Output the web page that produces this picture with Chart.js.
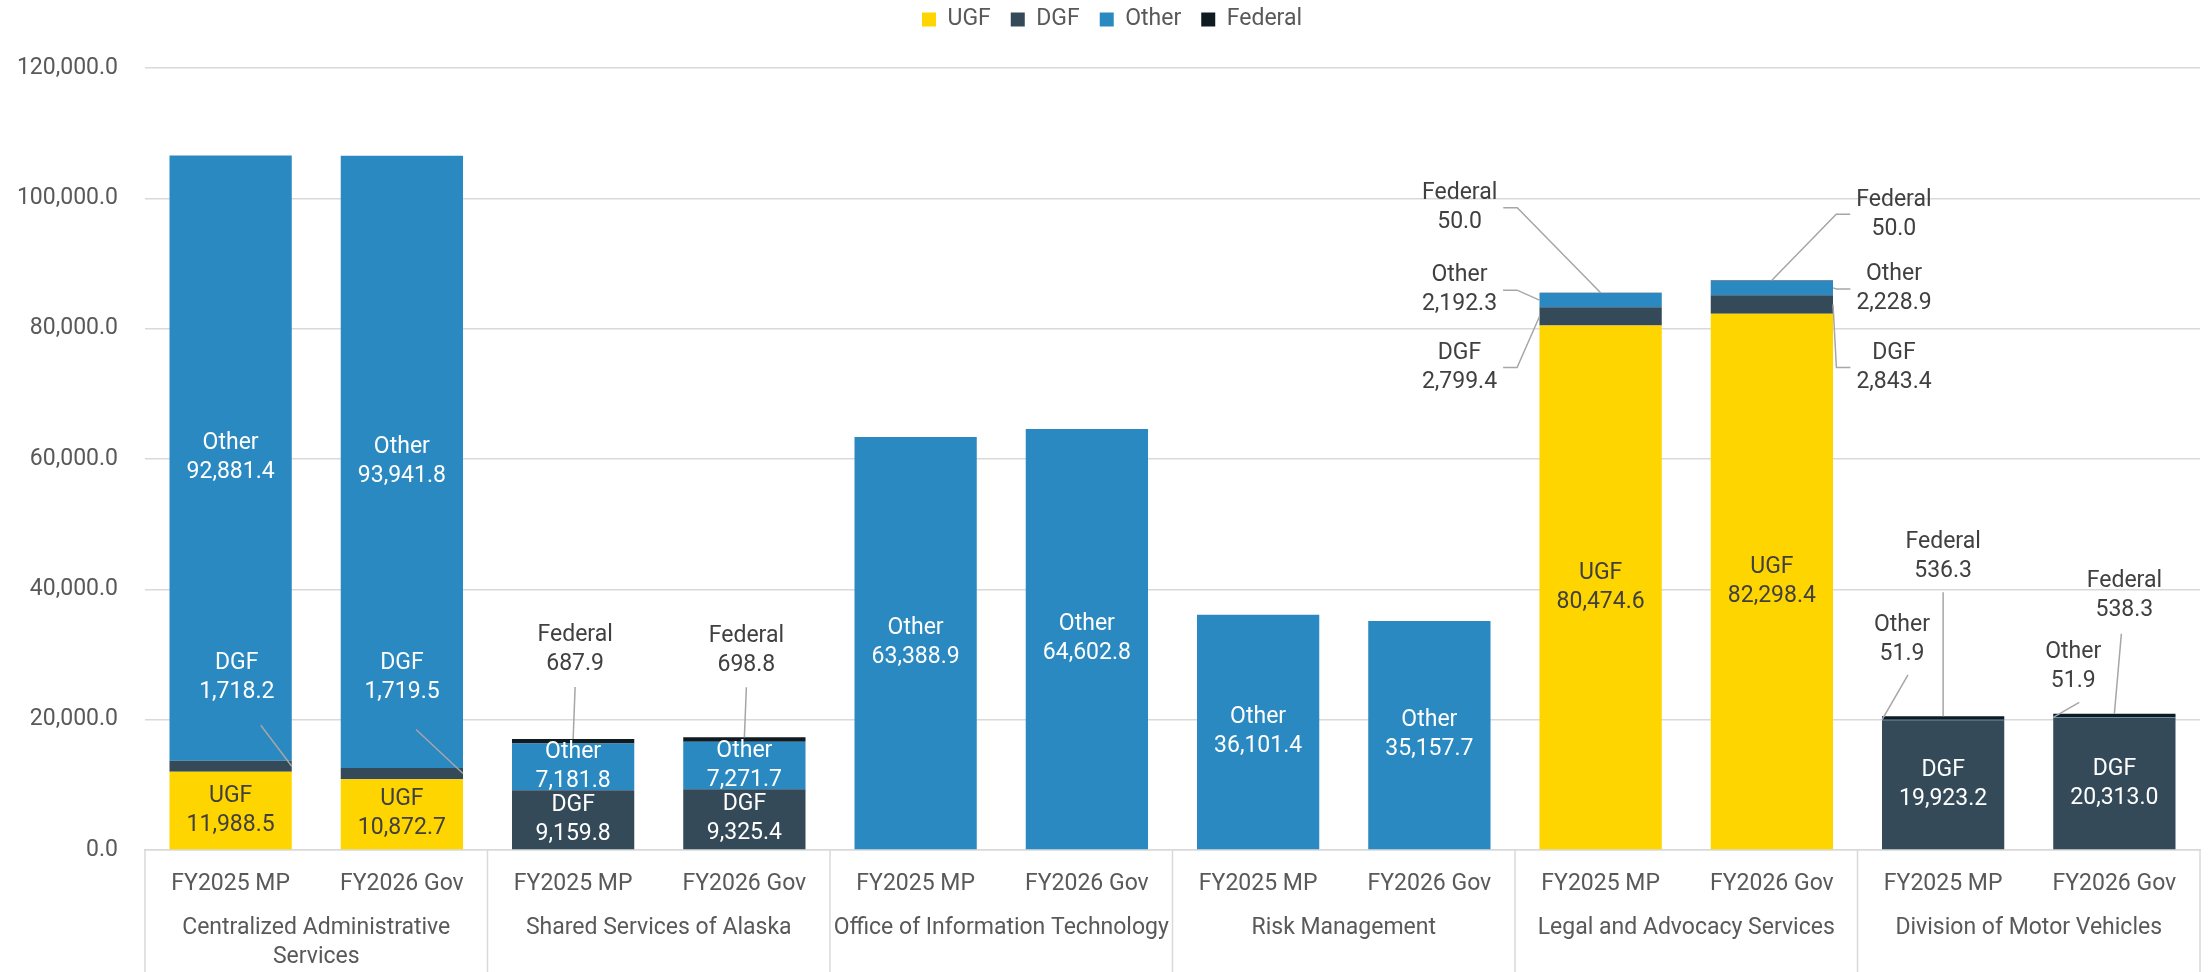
<!DOCTYPE html>
<html>
<head>
<meta charset="utf-8">
<script src="https://cdn.jsdelivr.net/npm/chart.js@4.4.1/dist/chart.umd.min.js"></script>
<style>
html, body { margin: 0; padding: 0; background: #ffffff; }
canvas { display: block; }
</style>
</head>
<body>
<canvas id="fundsChart" width="2211" height="972"></canvas>
<script>
const groups = [
    ['Centralized Administrative', 'Services'],
    ['Shared Services of Alaska'],
    ['Office of Information Technology'],
    ['Risk Management'],
    ['Legal and Advocacy Services'],
    ['Division of Motor Vehicles']
];
const years = ['FY2025 MP', 'FY2026 Gov'];

const ugf = [11988.5, 10872.7, 0, 0, 0, 0, 0, 0, 80474.6, 82298.4, 0, 0];
const dgf = [1718.2, 1719.5, 9159.8, 9325.4, 0, 0, 0, 0, 2799.4, 2843.4, 19923.2, 20313.0];
const other = [92881.4, 93941.8, 7181.8, 7271.7, 63388.9, 64602.8, 36101.4, 35157.7, 2192.3, 2228.9, 51.9, 51.9];
const federal = [0, 0, 687.9, 698.8, 0, 0, 0, 0, 50.0, 50.0, 536.3, 538.3];

const yTicks = [0, 20000, 40000, 60000, 80000, 100000, 120000];

const textColor = '#595959';
const labelColor = '#404040';
const gridColor = '#d9d9d9';
const fontFamily = 'Roboto, "Liberation Sans", sans-serif';
const fontSize = 23;

const fmt = v => v.toLocaleString('en-US', { minimumFractionDigits: 1, maximumFractionDigits: 1 });

// labels that sit outside their segment, with a leader line (key = dataset-index)
const callouts = {
    '1-0': { anchor: 'right', dx: -55, dy: -89, line: [24, 48], color: '#ffffff' },
    '1-1': { anchor: 'right', dx: -61, dy: -96, line: [14, 52], color: '#ffffff' },
    '3-2': { anchor: 'top', dx: 2, dy: -89, line: [0, 37] },
    '3-3': { anchor: 'top', dx: 2, dy: -87, line: [0, 37] },
    '3-8': { anchor: 'top', dx: -141, dy: -85 },
    '2-8': { anchor: 'left', dx: -80, dy: -10 },
    '1-8': { anchor: 'left', dx: -80, dy: 51 },
    '3-9': { anchor: 'top', dx: 122, dy: -66 },
    '2-9': { anchor: 'right', dx: 61, dy: 1 },
    '1-9': { anchor: 'right', dx: 61, dy: 63 },
    '3-10': { anchor: 'top', dx: 0, dy: -160, line: [0, 36] },
    '2-10': { anchor: 'topLeft', dx: 20, dy: -80, line: [6, 35] },
    '3-11': { anchor: 'top', dx: 10, dy: -118, line: [-3, 38] },
    '2-11': { anchor: 'topLeft', dx: 20, dy: -51, line: [6, 36] }
};

const dataLabels = {
    id: 'dataLabels',
    afterDatasetsDraw(chart) {
        const ctx = chart.ctx;
        ctx.save();
        ctx.font = fontSize + 'px ' + fontFamily;
        ctx.textAlign = 'center';
        ctx.textBaseline = 'middle';
        chart.data.datasets.forEach((ds, di) => {
            chart.getDatasetMeta(di).data.forEach((bar, i) => {
                const v = ds.data[i];
                if (!v) return;
                const lines = [ds.label, fmt(v)];
                const p = bar.getProps(['x', 'y', 'base', 'width'], true);
                const mid = (p.y + p.base) / 2;
                const c = callouts[di + '-' + i];
                let lx = p.x, ly = mid;
                let color = ds.label === 'UGF' ? labelColor : '#ffffff';
                if (c) {
                    const half = p.width / 2;
                    const anchors = {
                        top: [p.x, p.y],
                        topLeft: [p.x - half, p.y],
                        left: [p.x - half, mid],
                        right: [p.x + half, mid]
                    };
                    const [ax, ay] = anchors[c.anchor];
                    lx = ax + c.dx;
                    ly = ay + c.dy;
                    color = c.color || labelColor;
                    ctx.strokeStyle = '#a6a6a6';
                    ctx.lineWidth = 1.5;
                    ctx.beginPath();
                    if (c.line) {
                        ctx.moveTo(lx + c.line[0], ly + c.line[1]);
                    } else {
                        const w = Math.max(...lines.map(t => ctx.measureText(t).width)) / 2 + 6;
                        const s = c.dx < 0 ? 1 : -1;
                        ctx.moveTo(lx + s * w, ly);
                        ctx.lineTo(lx + s * (w + 14), ly);
                    }
                    ctx.lineTo(ax, ay);
                    ctx.stroke();
                }
                ctx.fillStyle = color;
                ctx.fillText(lines[0], lx, ly - 14.5);
                ctx.fillText(lines[1], lx, ly + 14.5);
            });
        });
        ctx.restore();
    }
};

// second level of the category axis: boxes and group names
const groupAxis = {
    id: 'groupAxis',
    afterDraw(chart) {
        const { ctx, chartArea } = chart;
        const w = chartArea.width / groups.length;
        ctx.save();
        ctx.strokeStyle = gridColor;
        ctx.lineWidth = 1.5;
        for (let g = 0; g <= groups.length; g++) {
            const px = chartArea.left + g * w;
            ctx.beginPath();
            ctx.moveTo(px, chartArea.bottom);
            ctx.lineTo(px, chart.height);
            ctx.stroke();
        }
        ctx.font = fontSize + 'px ' + fontFamily;
        ctx.fillStyle = textColor;
        ctx.textAlign = 'center';
        ctx.textBaseline = 'middle';
        groups.forEach((name, g) => {
            const cx = chartArea.left + (g + 0.5) * w;
            name.forEach((t, k) => ctx.fillText(t, cx, chartArea.bottom + 78 + k * 29));
        });
        ctx.restore();
    }
};

const legendSpacing = {
    id: 'legendSpacing',
    beforeInit(chart) {
        const legend = chart.legend;
        const fitOriginal = legend.fit;
        legend.fit = function () {
            fitOriginal.bind(legend)();
            this.height = 68;
        };
        const drawOriginal = legend.draw;
        legend.draw = function () {
            this.ctx.save();
            this.ctx.translate(12, -12);
            drawOriginal.apply(legend, arguments);
            this.ctx.restore();
        };
    }
};

Chart.defaults.font.family = fontFamily;
Chart.defaults.font.size = fontSize;
Chart.defaults.color = textColor;

const barStyle = { borderWidth: 0, barPercentage: 0.714, categoryPercentage: 1 };

new Chart(document.getElementById('fundsChart').getContext('2d'), {
    type: 'bar',
    data: {
        labels: groups.flatMap(() => years),
        datasets: [
            { label: 'UGF', data: ugf, backgroundColor: '#ffd500', ...barStyle },
            { label: 'DGF', data: dgf, backgroundColor: '#344a59', ...barStyle },
            { label: 'Other', data: other, backgroundColor: '#2a89c1', ...barStyle },
            { label: 'Federal', data: federal, backgroundColor: '#0f1a21', ...barStyle }
        ]
    },
    options: {
        responsive: false,
        animation: false,
        layout: {
            padding: { top: 0, right: 11, bottom: 0, left: 0 }
        },
        scales: {
            x: {
                stacked: true,
                grid: { display: false, drawTicks: false },
                border: { display: true, color: gridColor, width: 1.5 },
                ticks: { color: textColor, padding: 20, maxRotation: 0, autoSkip: false },
                afterFit: s => { s.height = 122; }
            },
            y: {
                stacked: true,
                min: 0,
                max: 120000,
                grid: { color: gridColor, lineWidth: 1.5, drawTicks: false },
                border: { display: false },
                ticks: { color: textColor, padding: 27, callback: v => fmt(v) },
                afterBuildTicks: s => { s.ticks = yTicks.map(v => ({ value: v })); },
                afterFit: s => { s.width = 145; }
            }
        },
        plugins: {
            legend: {
                position: 'top',
                labels: { boxWidth: 14, boxHeight: 14, padding: 20, color: textColor }
            },
            tooltip: { enabled: false }
        }
    },
    plugins: [legendSpacing, dataLabels, groupAxis]
});
</script>
</body>
</html>
